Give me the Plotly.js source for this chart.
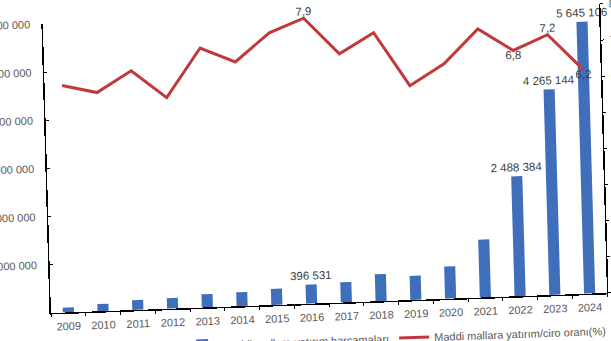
<!DOCTYPE html>
<html>
<head>
<meta charset="utf-8">
<script src="https://cdn.plot.ly/plotly-3.0.1.min.js"></script>
<style>
  html, body { margin: 0; padding: 0; background: #ffffff; overflow: hidden; width: 611px; height: 341px; }
  #chart { position: absolute; left: 0; top: 0; width: 700px; height: 360px;
           transform-origin: 0 0; transform: matrix(1, -0.036, 0.028, 1, -17.7, 5.16); }
</style>
</head>
<body>
<div id="chart"></div>
<script>
// ---- data ----
const years = ['2009','2010','2011','2012','2013','2014','2015','2016','2017','2018','2019','2020','2021','2022','2023','2024'];
const spending = [100000, 150000, 205000, 220000, 275000, 290000, 335000, 396531, 420000, 560000, 500000, 670000, 1200000, 2488384, 4265144, 5645106];
const ratio = [6.28, 6.05, 6.62, 5.84, 7.18, 6.76, 7.53, 7.9, 6.88, 7.43, 5.93, 6.50, 7.43, 6.8, 7.2, 6.2];
const labeledBarYears = ['2016', '2022', '2023', '2024'];
const labeledRatioYears = ['2016', '2022', '2023', '2024'];
const ratioLabelPositions = { '2016': 'top center', '2022': 'bottom center', '2023': 'top center', '2024': 'bottom center' };
const leftTicks = [1000000, 2000000, 3000000, 4000000, 5000000, 6000000];
const rightTicks = [0, 1, 2, 3, 4, 5, 6, 7, 8];
const barName = 'Maddi mallara yatırım harcamaları';
const lineName = 'Maddi mallara yatırım/ciro oranı(%)';

function fmtInt(v) {
  return String(Math.round(v)).replace(/\B(?=(\d{3})+(?!\d))/g, ' ');
}
function fmtDec(v) { return v.toFixed(1).replace('.', ','); }

const barText = years.map((y, i) => labeledBarYears.includes(y) ? fmtInt(spending[i]) : '');
const lineText = years.map((y, i) => labeledRatioYears.includes(y) ? fmtDec(ratio[i]) : '');
const linePos = years.map(y => ratioLabelPositions[y] || 'top center');

const labelFont = { family: 'Liberation Sans, Arial, sans-serif', size: 11.5, color: '#404040' };
const tickFont = { family: 'Liberation Sans, Arial, sans-serif', size: 11, color: '#595959' };

const traces = [
  {
    type: 'bar', name: barName, x: years, y: spending, yaxis: 'y',
    marker: { color: '#3f6fba' }, width: 0.32,
    text: barText, textposition: 'outside', textfont: labelFont, cliponaxis: false,
    constraintext: 'none', hoverinfo: 'x+y'
  },
  {
    type: 'scatter', mode: 'lines+text', name: lineName, x: years, y: ratio, yaxis: 'y2',
    line: { color: '#c0393b', width: 3 },
    text: lineText, textposition: linePos, textfont: labelFont, cliponaxis: false
  }
];

const layout = {
  width: 700, height: 360,
  margin: { l: 60, r: 84, t: 20.5, b: 49.5, pad: 0, autoexpand: false },
  paper_bgcolor: '#ffffff', plot_bgcolor: '#ffffff',
  showlegend: true,
  legend: { orientation: 'h', x: 0.62, xanchor: 'center', y: -0.13, yanchor: 'middle',
            font: tickFont, traceorder: 'normal' },
  xaxis: {
    type: 'category', range: [-0.5, years.length - 0.5], autorange: false,
    showline: true, linecolor: '#000000', linewidth: 1.5,
    ticks: 'outside', ticklen: 3, tickcolor: '#000000', tickson: 'boundaries',
    ticklabelstandoff: 3,
    tickangle: 0, tickfont: tickFont, showgrid: false, zeroline: false, fixedrange: true
  },
  yaxis: {
    range: [0, 6000000], tickvals: leftTicks, ticktext: leftTicks.map(fmtInt),
    showline: true, linecolor: '#000000', linewidth: 1.5,
    ticks: 'inside', ticklen: 3, tickcolor: '#000000', ticklabelstandoff: 9,
    tickfont: tickFont, showgrid: false, zeroline: false
  },
  yaxis2: {
    overlaying: 'y', side: 'right', range: [0, 8], tickvals: rightTicks,
    showline: true, linecolor: '#000000', linewidth: 1.5,
    ticks: 'outside', ticklen: 3, tickcolor: '#000000', ticklabelstandoff: 3,
    tickfont: tickFont, showgrid: false, zeroline: false
  }
};

Plotly.newPlot('chart', traces, layout, { displayModeBar: false, staticPlot: true });
</script>
</body>
</html>
